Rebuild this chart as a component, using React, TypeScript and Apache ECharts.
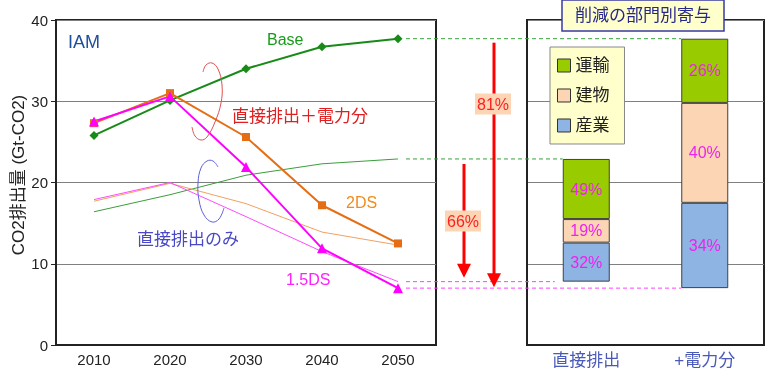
import React, { useEffect, useRef } from "react";
import * as echarts from "echarts";

const years = ["2010", "2020", "2030", "2040", "2050"];
const baseTotal = [25.8, 30.1, 34.0, 36.7, 37.7];
const ds2Total = [27.3, 31.0, 25.6, 17.2, 12.5];
const ds15Total = [27.5, 30.6, 21.9, 11.9, 7.0];
const baseDirect = [16.4, 18.5, 20.9, 22.3, 22.9];
const ds2Direct = [17.7, 19.9, 17.4, 13.9, 12.3];
const ds15Direct = [17.9, 20.0, 15.8, 11.5, 7.8];

const yTicks = [0, 10, 20, 30, 40];

const sectors = ["運輸", "建物", "産業"];
const barCats = ["直接排出", "+電力分"];
const barBase = [ds15Direct[4], ds15Total[4]];
const industry = [4.8, 10.5];
const building = [2.9, 12.3];
const transport = [7.4, 7.9];
const industryPct = ["32%", "34%"];
const buildingPct = ["19%", "40%"];
const transportPct = ["49%", "26%"];
const reductionPct = ["66%", "81%"];

const FONT = "'Liberation Sans', Arial, 'Noto Sans CJK JP', sans-serif";

export default function App() {
  const ref = useRef<HTMLDivElement>(null);
  useEffect(() => {
    if (!ref.current) return;
    const chart = echarts.init(ref.current, undefined, { renderer: "svg" });
    const yAxisCommon = (gi: number, showLabel: boolean) => ({
      type: "value",
      gridIndex: gi,
      min: yTicks[0],
      max: yTicks[yTicks.length - 1],
      interval: 10,
      axisLine: { show: true, lineStyle: { color: "#222", width: 2 } },
      axisTick: { show: showLabel, length: 5, lineStyle: { color: "#222" } },
      axisLabel: { show: showLabel, fontSize: 15, color: "#222", margin: 8, fontFamily: FONT },
      splitLine: { show: true, lineStyle: { color: "#808080", width: 1 } },
    });
    const barLabel = (arr: string[]) => ({
      show: true,
      position: "inside",
      color: "#ee22ee",
      fontSize: 16,
      fontFamily: FONT,
      formatter: (p: any) => arr[p.dataIndex],
    });
    const barStyle = (c: string) => ({ color: c, borderColor: "#404040", borderWidth: 1 });

    chart.setOption({
      animation: false,
      textStyle: { fontFamily: FONT },
      title: {
        text: "削減の部門別寄与",
        left: 562,
        top: 0,
        padding: [7, 13],
        backgroundColor: "#ffffcc",
        borderColor: "#3a3aa8",
        borderWidth: 1.5,
        textStyle: { fontSize: 17, color: "#26288a", fontWeight: "normal", fontFamily: FONT },
        z: 20,
      },
      legend: {
        data: sectors,
        orient: "vertical",
        left: 550,
        top: 47,
        itemWidth: 13,
        itemHeight: 13,
        itemGap: 13,
        padding: [10, 15, 10, 7],
        backgroundColor: "#ffffcc",
        borderColor: "#888",
        borderWidth: 1,
        icon: "rect",
        itemStyle: { borderColor: "#333", borderWidth: 1 },
        textStyle: { fontSize: 17, color: "#222", fontFamily: FONT },
        z: 20,
      },
      grid: [
        { left: 56, top: 20, width: 380, height: 325, show: true, borderColor: "#222", borderWidth: 2, backgroundColor: "transparent" },
        { left: 527, top: 20, width: 237, height: 325, show: true, borderColor: "#222", borderWidth: 2, backgroundColor: "transparent" },
      ],
      xAxis: [
        {
          type: "category",
          gridIndex: 0,
          data: years,
          boundaryGap: true,
          axisLine: { lineStyle: { color: "#222", width: 2 } },
          axisTick: { alignWithLabel: true, inside: true, length: 6, lineStyle: { color: "#222" } },
          axisLabel: { fontSize: 15, color: "#222", margin: 7, fontFamily: FONT },
        },
        {
          type: "category",
          gridIndex: 1,
          data: barCats,
          boundaryGap: true,
          axisLine: { lineStyle: { color: "#222", width: 2 } },
          axisTick: { inside: true, length: 6, lineStyle: { color: "#222" } },
          axisLabel: { fontSize: 17, color: "#4a5ab8", margin: 7, fontFamily: FONT },
        },
      ],
      yAxis: [yAxisCommon(0, true), yAxisCommon(1, false)],
      series: [
        { name: "Base直接", type: "line", xAxisIndex: 0, yAxisIndex: 0, data: baseDirect, showSymbol: false, symbol: "none", lineStyle: { color: "#3a9e3a", width: 1 } },
        { name: "2DS直接", type: "line", xAxisIndex: 0, yAxisIndex: 0, data: ds2Direct, showSymbol: false, symbol: "none", lineStyle: { color: "#f2a060", width: 1 } },
        { name: "1.5DS直接", type: "line", xAxisIndex: 0, yAxisIndex: 0, data: ds15Direct, showSymbol: false, symbol: "none", lineStyle: { color: "#ff4cff", width: 1 } },
        { name: "Base", type: "line", xAxisIndex: 0, yAxisIndex: 0, data: baseTotal, symbol: "diamond", symbolSize: 9, itemStyle: { color: "#178a17" }, lineStyle: { color: "#178a17", width: 2 } },
        { name: "2DS", type: "line", xAxisIndex: 0, yAxisIndex: 0, data: ds2Total, symbol: "rect", symbolSize: 8, itemStyle: { color: "#e56e14" }, lineStyle: { color: "#e56e14", width: 2 } },
        { name: "1.5DS", type: "line", xAxisIndex: 0, yAxisIndex: 0, data: ds15Total, symbol: "triangle", symbolSize: 10, itemStyle: { color: "#ff00ff" }, lineStyle: { color: "#ff00ff", width: 2 } },
        { name: "base", type: "bar", xAxisIndex: 1, yAxisIndex: 1, stack: "t", data: barBase, barWidth: 47, silent: true, itemStyle: { color: "transparent" } },
        { name: "産業", type: "bar", xAxisIndex: 1, yAxisIndex: 1, stack: "t", data: industry, barWidth: 47, itemStyle: barStyle("#8eb4e3"), label: barLabel(industryPct) },
        { name: "建物", type: "bar", xAxisIndex: 1, yAxisIndex: 1, stack: "t", data: building, barWidth: 47, itemStyle: barStyle("#fcd5b5"), label: barLabel(buildingPct) },
        { name: "運輸", type: "bar", xAxisIndex: 1, yAxisIndex: 1, stack: "t", data: transport, barWidth: 47, itemStyle: barStyle("#99cc00"), label: barLabel(transportPct) },
      ],
    });

    const xL = (c: string) => chart.convertToPixel({ xAxisIndex: 0 }, c) as number;
    const xR = (c: string) => chart.convertToPixel({ xAxisIndex: 1 }, c) as number;
    const yv = (v: number) => chart.convertToPixel({ yAxisIndex: 0 }, v) as number;
    const x50 = xL("2050") + 8;
    const bar1L = xR(barCats[0]) - 23.5;
    const bar2L = xR(barCats[1]) - 23.5;
    const leftEdge = 436;
    const a1x = leftEdge + 28;
    const a2x = leftEdge + 58;

    const dash = (y: number, x2: number, color: string) => ({
      type: "line",
      z: 30,
      shape: { x1: x50, y1: y, x2, y2: y },
      style: { stroke: color, lineWidth: 1, lineDash: [4, 3] },
    });
    const arrow = (x: number, yFrom: number, yTip: number) => [
      { type: "line", z: 31, shape: { x1: x, y1: yFrom, x2: x, y2: yTip - 12 }, style: { stroke: "#ff0000", lineWidth: 3 } },
      { type: "polygon", z: 31, shape: { points: [[x - 7, yTip - 14], [x + 7, yTip - 14], [x, yTip]] }, style: { fill: "#ff0000" } },
    ];
    const pctLabel = (x: number, y: number, t: string) => ({
      type: "text",
      z: 32,
      x,
      y,
      style: {
        text: t,
        fill: "#ff2020",
        fontSize: 16,
        fontFamily: FONT,
        align: "center",
        verticalAlign: "middle",
        backgroundColor: "#fcd5b5",
        padding: [3, 2, 2, 2],
      },
    });
    const note = (x: number, y: number, t: string, color: string, size: number) => ({
      type: "text",
      z: 25,
      x,
      y,
      style: { text: t, fill: color, fontSize: size, fontFamily: FONT, align: "left", verticalAlign: "middle" },
    });

    chart.setOption({
      graphic: [
        {
          type: "text",
          z: 25,
          x: 18,
          y: 175,
          rotation: Math.PI / 2,
          style: { text: "CO2排出量 (Gt-CO2)", fill: "#222", fontSize: 17, fontFamily: FONT, align: "center", verticalAlign: "middle" },
        },
        dash(yv(baseTotal[4]), bar2L, "#3aa03a"),
        dash(yv(baseDirect[4]), bar1L, "#3aa03a"),
        dash(yv(ds15Direct[4]), bar1L - 8, "#ff40ff"),
        dash(yv(ds15Total[4]), bar2L, "#ff40ff"),
        ...arrow(a1x, yv(baseDirect[4]) + 5, yv(ds15Direct[4]) - 4),
        ...arrow(a2x, yv(baseTotal[4]) + 4, yv(ds15Total[4]) - 1),
        pctLabel(a1x - 1, 221, reductionPct[0]),
        pctLabel(a2x - 1, 104, reductionPct[1]),
        note(68, 42, "IAM", "#1f4e9c", 18),
        note(267, 39, "Base", "#1a9a1a", 16),
        note(232, 116, "直接排出＋電力分", "#e02020", 17),
        note(346, 202, "2DS", "#f08c1a", 16),
        note(137, 239, "直接排出のみ", "#4848c8", 17),
        note(286, 279, "1.5DS", "#ff20ff", 16),
        {
          type: "polyline",
          z: 24,
          shape: {
            points: [[203, 72], [206, 65], [212, 63], [218, 69], [222, 85], [221, 103], [215, 122], [207, 137], [201, 140], [195, 136], [192, 127]],
            smooth: 0.4,
          },
          style: { stroke: "#e05050", lineWidth: 1, fill: "none" },
        },
        {
          type: "polyline",
          z: 24,
          shape: {
            points: [[218, 167], [213, 161], [207, 161], [201, 168], [198, 183], [199, 200], [204, 215], [212, 222], [219, 219], [224, 208]],
            smooth: 0.4,
          },
          style: { stroke: "#6060d8", lineWidth: 1, fill: "none" },
        },
      ],
    });

    return () => chart.dispose();
  }, []);
  return <div ref={ref} style={{ position: "fixed", left: 0, top: 0, width: 768, height: 379 }} />;
}
